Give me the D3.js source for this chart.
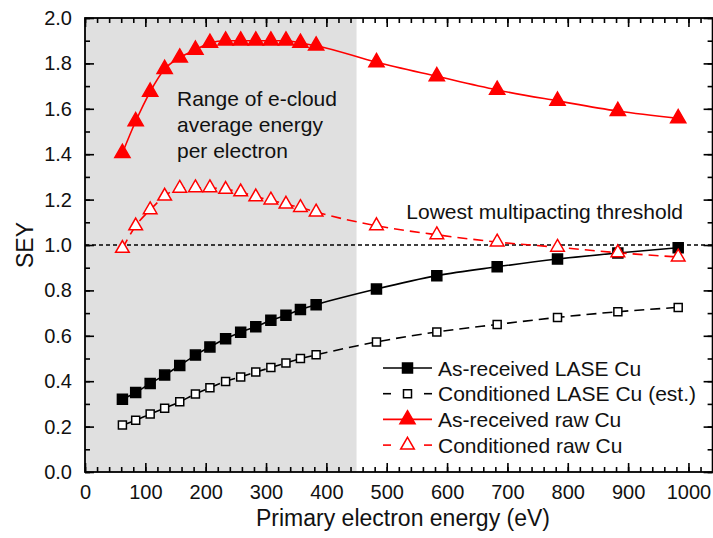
<!DOCTYPE html>
<html><head><meta charset="utf-8">
<script src="https://cdn.jsdelivr.net/npm/d3@7"></script>
<style>body{margin:0;background:#fff}svg{display:block;font-family:"Liberation Sans",Arial,sans-serif}</style>
</head><body><svg id="c" width="713" height="538"></svg>
<script>
const energy = [62, 84, 108, 132, 157, 183, 207, 233, 258, 283, 308, 333, 357, 383, 483, 583, 683, 783, 883, 983];
const asReceivedLASE = [0.32, 0.35, 0.39, 0.427, 0.469, 0.515, 0.551, 0.587, 0.616, 0.64, 0.668, 0.69, 0.716, 0.737, 0.806, 0.865, 0.904, 0.938, 0.965, 0.988];
const conditionedLASE = [0.207, 0.228, 0.255, 0.281, 0.309, 0.344, 0.371, 0.399, 0.419, 0.44, 0.46, 0.48, 0.5, 0.516, 0.573, 0.617, 0.65, 0.681, 0.706, 0.725];
const asReceivedRaw = [1.405, 1.545, 1.675, 1.775, 1.825, 1.86, 1.89, 1.90, 1.90, 1.90, 1.90, 1.90, 1.89, 1.878, 1.805, 1.743, 1.683, 1.635, 1.59, 1.558];
const conditionedRaw = [0.985, 1.084, 1.155, 1.215, 1.25, 1.252, 1.252, 1.245, 1.234, 1.212, 1.198, 1.18, 1.165, 1.145, 1.085, 1.045, 1.013, 0.99, 0.966, 0.947];
const xTicks = [0, 100, 200, 300, 400, 500, 600, 700, 800, 900, 1000];
const yTicks = [0.0, 0.2, 0.4, 0.6, 0.8, 1.0, 1.2, 1.4, 1.6, 1.8, 2.0];
const legendLabels = ["As-received LASE Cu", "Conditioned LASE Cu (est.)", "As-received raw Cu", "Conditioned raw Cu"];
const threshold = 1.0;
const shadeRange = [0, 450];

const svg = d3.select("#c");
const L = 85, R = 712.6, T = 18, B = 472;
const x = d3.scaleLinear().domain([0, 1040]).range([L, R]);
const y = d3.scaleLinear().domain([0, 2]).range([B, T]);
const FONT = "Liberation Sans, Arial, sans-serif";

svg.append("rect").attr("x", x(shadeRange[0])).attr("y", T)
  .attr("width", x(shadeRange[1]) - x(shadeRange[0])).attr("height", B - T)
  .attr("fill", "#e0e0e0");

svg.append("line").attr("x1", L).attr("x2", R).attr("y1", y(threshold)).attr("y2", y(threshold))
  .attr("stroke", "#000").attr("stroke-width", 1.6).attr("stroke-dasharray", "4,3");

const ann = svg.append("text").attr("x", 177).attr("y", 106).attr("font-size", 21).attr("fill", "#111");
["Range of e-cloud", "average energy", "per electron"].forEach((t, i) =>
  ann.append("tspan").attr("x", 177).attr("dy", i ? 26 : 0).text(t));
svg.append("text").attr("x", 683).attr("y", 219).attr("text-anchor", "end").attr("font-size", 21).attr("fill", "#111")
  .text("Lowest multipacting threshold");

function axisGroup(axis, tx, ty) {
  const g = svg.append("g").attr("transform", `translate(${tx},${ty})`).call(axis);
  g.select(".domain").remove();
  g.selectAll("line").attr("stroke", "#000").attr("stroke-width", 1.6);
  return g;
}
const xMinor = d3.range(0, 1041, 20);
const yMinor = d3.range(0, 2.001, 0.1);
axisGroup(d3.axisBottom(x).tickValues(xMinor).tickSize(-5).tickFormat(""), 0, B);
const gx = axisGroup(d3.axisBottom(x).tickValues(xTicks).tickSize(-9).tickPadding(13).tickFormat(d3.format("d")), 0, B);
gx.selectAll("text").attr("font-size", 20).attr("fill", "#111").attr("font-family", FONT);
axisGroup(d3.axisTop(x).tickValues(xMinor).tickSize(-5).tickFormat(""), 0, T);
axisGroup(d3.axisTop(x).tickValues(xTicks).tickSize(-9).tickFormat(""), 0, T);
axisGroup(d3.axisLeft(y).tickValues(yMinor).tickSize(-5).tickFormat(""), L, 0);
const gy = axisGroup(d3.axisLeft(y).tickValues(yTicks).tickSize(-9).tickPadding(13).tickFormat(d3.format(".1f")), L, 0);
gy.selectAll("text").attr("font-size", 20).attr("fill", "#111").attr("font-family", FONT);
axisGroup(d3.axisRight(y).tickValues(yMinor).tickSize(-5).tickFormat(""), R, 0);
axisGroup(d3.axisRight(y).tickValues(yTicks).tickSize(-9).tickFormat(""), R, 0);

svg.append("rect").attr("x", L).attr("y", T).attr("width", R - L).attr("height", B - T)
  .attr("fill", "none").attr("stroke", "#000").attr("stroke-width", 1.8);

svg.append("text").attr("x", 403).attr("y", 526).attr("text-anchor", "middle").attr("font-size", 23).attr("fill", "#111")
  .text("Primary electron energy (eV)");
svg.append("text").attr("transform", "translate(33,245) rotate(-90)").attr("text-anchor", "middle").attr("font-size", 23).attr("fill", "#111")
  .text("SEY");

const series = [
  {vals: asReceivedLASE, color: "#000", dash: null, sym: d3.symbolSquare, size: 100, fill: "#000"},
  {vals: conditionedLASE, color: "#000", dash: "10,6", sym: d3.symbolSquare, size: 64, fill: "#fff"},
  {vals: asReceivedRaw, color: "#f00", dash: null, sym: d3.symbolTriangle, size: 100, fill: "#f00"},
  {vals: conditionedRaw, color: "#f00", dash: "10,6", sym: d3.symbolTriangle, size: 80, fill: "#fff"}
];
const line = d3.line().x((d, i) => x(energy[i])).y(d => y(d)).curve(d3.curveMonotoneX);
series.forEach(s => {
  svg.append("path").attr("d", line(s.vals)).attr("fill", "none").attr("stroke", s.color)
    .attr("stroke-width", 1.6).attr("stroke-dasharray", s.dash);
});
series.forEach(s => {
  const sym = d3.symbol().type(s.sym).size(s.size);
  svg.append("g").selectAll("path").data(s.vals).join("path")
    .attr("transform", (d, i) => `translate(${x(energy[i])},${y(d)})`)
    .attr("d", sym).attr("fill", s.fill).attr("stroke", s.color).attr("stroke-width", 1.5);
});

const lx0 = 383, lx1 = 432, ly0 = 368, ldy = 25.7;
series.forEach((s, i) => {
  const yy = ly0 + i * ldy;
  if (s.dash) {
    [[lx0, lx0 + 8], [lx1 - 8, lx1]].forEach(([a, b]) =>
      svg.append("line").attr("x1", a).attr("x2", b).attr("y1", yy).attr("y2", yy).attr("stroke", s.color).attr("stroke-width", 1.6));
  } else {
    svg.append("line").attr("x1", lx0).attr("x2", lx1).attr("y1", yy).attr("y2", yy).attr("stroke", s.color).attr("stroke-width", 1.6);
  }
  svg.append("path").attr("transform", `translate(${(lx0 + lx1) / 2},${yy})`)
    .attr("d", d3.symbol().type(s.sym).size(s.size)).attr("fill", s.fill).attr("stroke", s.color).attr("stroke-width", 1.5);
  svg.append("text").attr("x", 438).attr("y", yy + 7.5).attr("font-size", 21).attr("fill", "#111").text(legendLabels[i]);
});
</script></body></html>
